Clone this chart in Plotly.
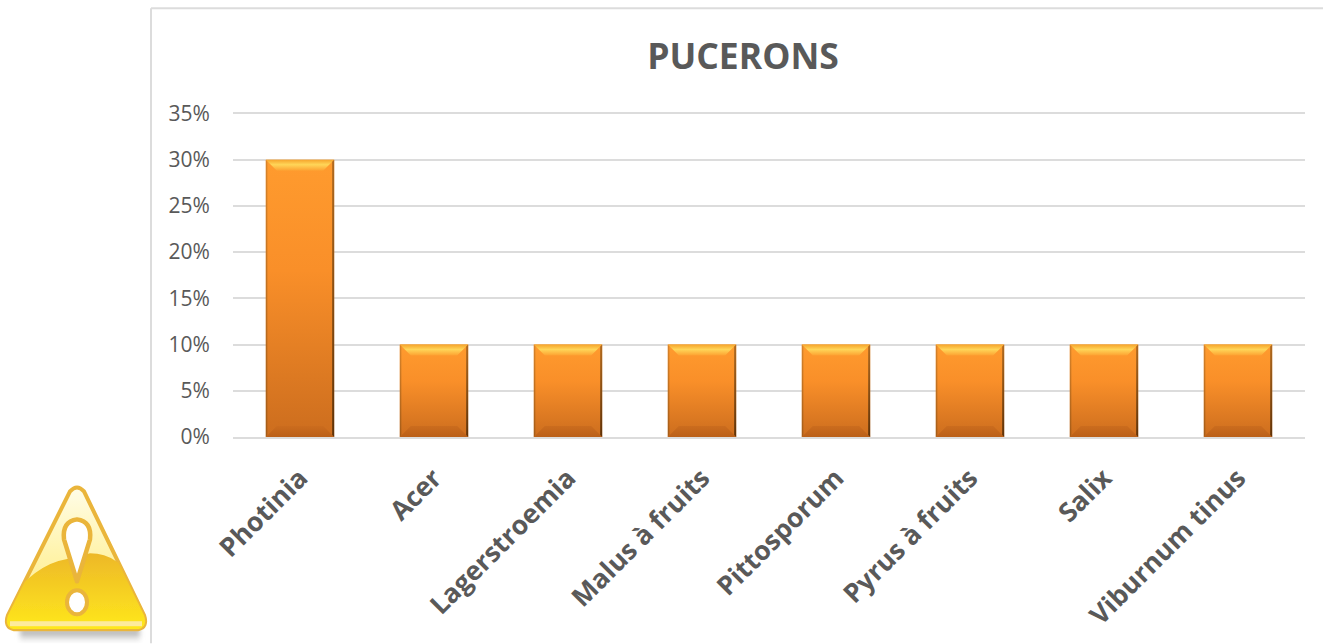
import base64
import plotly.graph_objects as go

categories = ["Photinia", "Acer", "Lagerstroemia", "Malus à fruits", "Pittosporum",
              "Pyrus à fruits", "Salix", "Viburnum tinus"]
values = [0.30, 0.10, 0.10, 0.10, 0.10, 0.10, 0.10, 0.10]
title_text = "PUCERONS"
y_ticks = [0, 0.05, 0.10, 0.15, 0.20, 0.25, 0.30, 0.35]

W, H = 1323, 644
L, R, T, B = 233, 18, 110, 206.5
TEXT = "#595959"
GRID = "#dcdcdc"
FONT = "Open Sans"


def px(x):
    return (x - L) / (W - L - R)


def py(y):
    return 1 - (y - T) / (H - T - B)


icon_svg = """<svg xmlns='http://www.w3.org/2000/svg' width='170' height='174' viewBox='0 0 170 174'>
<defs>
<linearGradient id='b' x1='0' y1='0' x2='0' y2='1'><stop offset='0' stop-color='#fffde8'/><stop offset='0.5' stop-color='#fff3a8'/><stop offset='1' stop-color='#fde98a'/></linearGradient>
<linearGradient id='g' x1='0' y1='0' x2='0' y2='1'><stop offset='0' stop-color='#edb828'/><stop offset='1' stop-color='#ffe81c'/></linearGradient>
<linearGradient id='s' x1='0' y1='0' x2='0' y2='1'><stop offset='0' stop-color='#a0a0a0'/><stop offset='1' stop-color='#ffffff'/></linearGradient>
<filter id='f' x='-10%' y='-50%' width='120%' height='200%'><feGaussianBlur stdDeviation='2.5'/></filter>
<filter id='soft' x='-5%' y='-5%' width='110%' height='110%'><feGaussianBlur stdDeviation='0.7'/></filter>
<clipPath id='c'><path d='M70 22 Q77 14 84 22 L144 146 Q148 158 138 160 L14 160 Q4 158 8 146 Z'/></clipPath>
</defs>
<rect x='20' y='160' width='120' height='13' fill='url(#s)' filter='url(#f)'/>
<g filter='url(#soft)'>
<path d='M70 22 Q77 14 84 22 L144 146 Q148 158 138 160 L14 160 Q4 158 8 146 Z' fill='url(#b)' stroke='#eab53a' stroke-width='4'/>
<g clip-path='url(#c)'>
<path d='M5 135 Q35 95 66 90 L90 84 Q105 84 116 92 L150 110 L150 160 L5 160 Z' fill='url(#g)'/>
<rect x='10' y='152' width='132' height='5' fill='#fdeb9c'/>
</g>
<path d='M77 112 L64 70 Q62 52 77 50 Q92 52 90 70 Z' fill='#fff' stroke='#eab53a' stroke-width='4.5' stroke-linejoin='round'/>
<ellipse cx='77' cy='133' rx='10' ry='12' fill='#fff' stroke='#eab53a' stroke-width='4'/>
</g>
</svg>"""
icon_uri = "data:image/svg+xml;base64," + base64.b64encode(icon_svg.encode()).decode()

fig = go.Figure(go.Bar(
    x=categories, y=values,
    marker=dict(color="#f08a24", line=dict(width=0)),
    hoverinfo="skip",
))

# The range runs a little above 35% so that the 35% gridline is kept by plotly.
fig.update_layout(
    width=W, height=H,
    margin=dict(l=L, r=R, t=T, b=B, autoexpand=False),
    paper_bgcolor="white", plot_bgcolor="white",
    bargap=0.49,
    showlegend=False,
    title=dict(text=f"<b>{title_text}</b>", x=px(743), xref="paper", xanchor="center",
               y=1 - 57 / H, yanchor="middle",
               font=dict(family=FONT, size=35.5, color=TEXT)),
    font=dict(family=FONT, color=TEXT),
    shapes=[
        dict(type="line", xref="paper", yref="paper", x0=px(151), x1=px(151), y0=py(8), y1=py(644),
             line=dict(color=GRID, width=2)),
        dict(type="line", xref="paper", yref="paper", x0=px(151), x1=px(1323), y0=py(8), y1=py(8),
             line=dict(color=GRID, width=2)),
    ],
    images=[dict(source=icon_uri, xref="paper", yref="paper", x=px(0), y=py(470),
                 sizex=170 / (W - L - R), sizey=174 / (H - T - B),
                 xanchor="left", yanchor="top", sizing="stretch", layer="above")],
)
fig.update_xaxes(
    type="category", tickangle=-45, showgrid=False, zeroline=False,
    showline=True, linecolor=GRID, linewidth=2,
    ticks="outside", ticklen=13, tickcolor="rgba(0,0,0,0)",
    tickfont=dict(family=FONT, size=26.5, color=TEXT, weight="bold"),
)
fig.update_yaxes(
    range=[0, 0.35378], tickvals=y_ticks, tickformat=".0%",
    showgrid=True, gridcolor=GRID, gridwidth=2, zeroline=False, showline=False,
    ticks="outside", ticklen=18, tickcolor="rgba(0,0,0,0)",
    tickfont=dict(family=FONT, size=21, color=TEXT),
)

post = """
document.body.style.margin = '0';
document.documentElement.style.overflow = 'hidden';
var gd = document.getElementById('{plot_id}');
var NS = 'http://www.w3.org/2000/svg';
var svg = gd.querySelector('svg.main-svg');
var defs = svg.querySelector('defs') || svg.insertBefore(document.createElementNS(NS, 'defs'), svg.firstChild);
function lg(id, stops) {
  var g = document.createElementNS(NS, 'linearGradient');
  g.setAttribute('id', id); g.setAttribute('x1', '0'); g.setAttribute('y1', '0'); g.setAttribute('x2', '0'); g.setAttribute('y2', '1');
  stops.forEach(function (s) {
    var st = document.createElementNS(NS, 'stop');
    st.setAttribute('offset', s[0]); st.setAttribute('stop-color', s[1]); g.appendChild(st);
  });
  defs.appendChild(g);
}
lg('barFill', [[0, '#ff9b2e'], [0.4, '#f98f29'], [1, '#cc6d1e']]);
lg('barTop', [[0, '#f6a52c'], [0.45, '#ffd558'], [1, '#fda131']]);
lg('barBot', [[0, '#cb6c1e'], [1, '#bb6018']]);
lg('barLeft', [[0, '#d9842a'], [1, '#a55c18']]);
lg('barRight', [[0, '#b06a20'], [1, '#5e3208']]);
gd.querySelectorAll('.barlayer .point').forEach(function (pt) {
  var p = pt.querySelector('path');
  var b = p.getBBox();
  p.style.fill = 'url(#barFill)';
  var x0 = b.x, x1 = b.x + b.width, y0 = b.y, y1 = b.y + b.height, d = 11;
  function poly(points, fill) {
    var q = document.createElementNS(NS, 'polygon');
    q.setAttribute('points', points.map(function (c) { return c.join(','); }).join(' '));
    q.setAttribute('fill', fill);
    pt.appendChild(q);
  }
  poly([[x0, y0], [x1, y0], [x1 - d, y0 + d], [x0 + d, y0 + d]], 'url(#barTop)');
  poly([[x0, y1], [x1, y1], [x1 - d, y1 - d], [x0 + d, y1 - d]], 'url(#barBot)');
  poly([[x0, y0], [x0 + 1.5, y0 + 2], [x0 + 1.5, y1 - 2], [x0, y1]], 'url(#barLeft)');
  poly([[x1, y0], [x1 - 2, y0 + 2], [x1 - 2, y1 - 2], [x1, y1]], 'url(#barRight)');
});
"""

fig.write_html("out.html", post_script=post, config={"displayModeBar": False})
